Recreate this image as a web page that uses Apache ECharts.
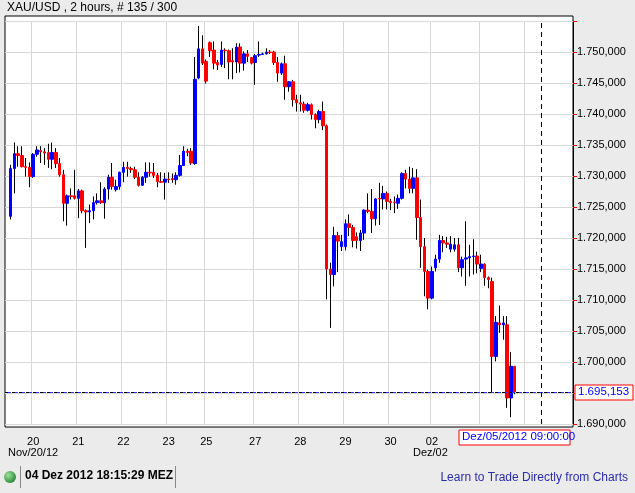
<!DOCTYPE html>
<html>
<head>
<meta charset="utf-8">
<script src="https://cdn.jsdelivr.net/npm/echarts@6/dist/echarts.min.js"></script>
<style>
  html, body { margin: 0; padding: 0; background: #ebebeb; }
  #main { width: 635px; height: 493px; }
</style>
</head>
<body>
<div id="main"></div>
<script>
// Kerzen (2 Stunden), von links nach rechts
const opens = [1723.5,1731.2,1733.6,1733.3,1731.5,1731.4,1729.9,1733.5,1734.1,1733.9,1733.8,1732.7,1733.8,1732.0,1730.2,1725.6,1726.8,1726.8,1726.4,1727.6,
  1724.4,1724.2,1724.4,1725.7,1726.0,1725.7,1727.9,1729.8,1727.8,1728.3,1730.6,1731.4,1731.2,1731.0,1729.8,1728.5,1729.8,1730.6,1730.6,1730.1,
  1729.1,1729.0,1729.5,1729.6,1729.4,1730.1,1731.7,1734.0,1734.0,1732.0,1745.8,1750.5,1748.5,1751.5,1750.3,1748.3,1748.0,1750.3,1750.2,1748.6,
  1748.4,1750.8,1748.2,1749.7,1749.1,1748.3,1749.5,1749.6,1749.7,1750.0,1750.0,1748.3,1746.6,1748.1,1744.4,1745.2,1742.3,1741.8,1741.6,1740.6,
  1741.5,1739.9,1739.1,1740.4,1738.1,1715.0,1714.1,1720.4,1718.6,1718.6,1722.3,1721.7,1720.2,1719.6,1720.8,1724.5,1724.3,1723.1,1726.4,1726.3,
  1727.2,1725.9,1725.8,1725.6,1726.4,1730.4,1729.5,1728.0,1729.7,1723.3,1718.6,1714.6,1710.3,1715.2,1716.6,1719.6,1719.2,1718.2,1718.2,1718.9,
  1715.2,1716.6,1716.8,1717.0,1717.1,1715.1,1715.8,1713.6,1713.0,1700.9,1706.3,1706.0,1706.0,1694.2,1699.3];
const closes = [1731.2,1733.6,1733.3,1731.5,1731.4,1729.9,1733.5,1734.2,1733.9,1733.7,1732.7,1733.8,1732.0,1730.2,1725.6,1726.8,1726.7,1726.4,1727.6,1724.4,
  1724.2,1724.4,1725.7,1726.0,1725.7,1727.9,1729.8,1728.3,1728.3,1730.6,1731.4,1731.2,1731.0,1729.8,1728.5,1729.8,1730.6,1730.5,1730.1,1729.1,
  1729.0,1729.5,1729.4,1729.4,1730.1,1731.7,1734.0,1733.8,1732.1,1745.6,1750.5,1748.2,1745.3,1750.2,1748.2,1747.9,1750.3,1750.2,1748.4,1748.4,
  1750.8,1748.2,1749.7,1749.3,1748.2,1749.4,1749.6,1749.7,1750.0,1749.9,1748.3,1746.6,1748.1,1744.4,1745.2,1742.3,1741.8,1741.6,1740.6,1741.5,
  1739.9,1739.1,1740.4,1738.1,1715.0,1714.1,1720.4,1719.5,1719.4,1722.3,1721.7,1719.6,1719.6,1720.8,1724.5,1724.3,1723.1,1726.3,1726.3,1727.2,
  1725.9,1725.7,1725.7,1726.4,1730.4,1729.5,1728.0,1729.7,1723.3,1718.6,1714.6,1710.3,1714.6,1716.6,1719.6,1719.2,1719.0,1719.0,1718.9,1715.2,
  1716.5,1716.8,1717.0,1717.1,1715.8,1715.8,1713.6,1713.3,1700.9,1706.4,1706.0,1706.3,1694.2,1699.3,1695.2];
const lows = [1723.0,1727.2,1731.5,1731.4,1729.9,1728.2,1729.7,1733.1,1732.1,1731.8,1731.3,1731.1,1731.3,1729.9,1722.7,1722.0,1726.2,1726.2,1723.2,1724.0,
  1718.4,1722.4,1723.0,1725.4,1725.5,1723.1,1726.2,1727.8,1727.5,1727.8,1729.0,1729.9,1730.5,1729.5,1728.3,1728.4,1728.9,1729.9,1729.7,1728.2,
  1728.9,1726.2,1728.9,1728.9,1728.6,1729.9,1731.6,1733.2,1731.8,1731.8,1745.6,1747.9,1744.9,1749.2,1747.2,1747.1,1747.6,1747.4,1745.6,1745.6,
  1746.6,1746.7,1747.0,1748.4,1748.0,1744.7,1749.2,1749.5,1749.6,1749.7,1747.9,1745.2,1746.3,1742.3,1743.6,1741.2,1740.4,1740.4,1740.2,1740.4,
  1739.1,1737.7,1738.5,1737.4,1710.1,1705.5,1712.2,1714.5,1717.9,1718.0,1720.3,1718.5,1718.3,1717.9,1719.7,1724.0,1720.8,1722.0,1722.1,1724.6,
  1724.6,1724.5,1724.0,1724.7,1726.2,1728.0,1727.2,1727.2,1719.7,1715.2,1710.6,1708.5,1710.1,1714.6,1716.0,1717.7,1718.4,1717.7,1717.8,1714.5,
  1713.8,1712.3,1713.8,1714.1,1714.3,1714.5,1712.3,1711.9,1695.0,1700.1,1704.7,1703.6,1692.6,1691.1,1694.8];
const highs = [1731.8,1735.4,1734.8,1734.8,1732.9,1732.2,1733.7,1734.8,1734.8,1734.5,1735.2,1735.4,1734.5,1732.9,1731.0,1727.0,1728.0,1731.0,1727.9,1727.8,
  1724.6,1725.4,1726.7,1727.2,1729.0,1728.2,1730.2,1732.1,1729.4,1730.7,1732.3,1732.3,1731.5,1731.5,1730.6,1730.0,1732.2,1732.2,1732.1,1730.5,
  1730.6,1730.5,1730.6,1730.4,1730.6,1733.4,1734.8,1734.4,1734.5,1749.2,1754.2,1752.7,1748.8,1751.7,1751.7,1748.7,1751.7,1750.6,1750.4,1750.6,
  1751.4,1751.4,1750.1,1750.3,1749.2,1749.7,1751.7,1749.9,1750.6,1750.3,1750.2,1749.2,1748.3,1749.4,1745.3,1745.5,1743.1,1743.1,1742.0,1741.8,
  1741.7,1740.1,1740.7,1742.0,1738.3,1716.0,1721.8,1721.0,1720.5,1723.0,1723.8,1722.1,1720.9,1721.3,1724.6,1727.2,1727.9,1726.4,1728.9,1728.4,
  1727.5,1726.3,1726.7,1727.0,1730.6,1731.0,1731.5,1731.3,1731.1,1726.2,1720.0,1714.9,1715.4,1717.3,1720.5,1720.3,1720.2,1720.3,1720.0,1720.0,
  1717.0,1722.7,1718.9,1719.8,1717.8,1717.3,1715.9,1713.8,1713.6,1707.4,1709.1,1707.4,1707.4,1701.6,1699.3];

// Achsenbeschriftung unten
const tickIndex = [7, 19, 31, 43, 53, 66, 78, 90, 102, 113, 126, 138];
const tickText = ['20', '21', '22', '23', '25', '27', '28', '29', '30', '02', '', ''];
const lastPrice = 1695.153;

const SLOTS = 151;
const firstSlot = 1;
const categories = [];
const wickData = [];
const bodyData = [];
for (let i = 0; i < SLOTS; i++) {
  const k = tickIndex.indexOf(i);
  categories.push(k >= 0 ? tickText[k] : 's' + i);
  const j = i - firstSlot;
  if (j >= 0 && j < opens.length) {
    const o = opens[j], c = closes[j];
    const lo = Math.min(lows[j], o, c), hi = Math.max(highs[j], o, c);
    wickData.push([o, c, lo, hi]);
    bodyData.push([o, c, Math.min(o, c), Math.max(o, c)]);
  } else {
    wickData.push('-');
    bodyData.push('-');
  }
}
const isTick = i => tickIndex.indexOf(i) >= 0;
const fmt = v => '1.' + String(Math.round(v - 1000)).padStart(3, '0') + ',000';

const chart = echarts.init(document.getElementById('main'));
chart.setOption({
  backgroundColor: '#ebebeb',
  animation: false,
  textStyle: { fontFamily: 'Liberation Sans, Arial, sans-serif' },
  grid: { left: 5, right: 62, top: 21, bottom: 69, show: false },
  graphic: [
    { type: 'rect', z: -100, shape: { x: 5, y: 16, width: 568, height: 411 },
      style: { fill: '#fff', stroke: '#000', lineWidth: 1 }, silent: true },
    { type: 'text', left: 7, top: 2, style: { text: 'XAU/USD , 2 hours, # 135 / 300', fontSize: 12, fill: '#000', fontFamily: 'Liberation Sans' } },
    { type: 'text', left: 8, top: 447, style: { text: 'Nov/20/12', fontSize: 11, fill: '#000', fontFamily: 'Liberation Sans' } },
    { type: 'text', left: 413, top: 447, style: { text: 'Dez/02', fontSize: 11, fill: '#000', fontFamily: 'Liberation Sans' } },
    { type: 'rect', shape: { x: 459, y: 430, width: 111, height: 15 }, style: { fill: '#fff', stroke: '#ff0000', lineWidth: 1 } },
    { type: 'text', left: 462, top: 431, style: { text: 'Dez/05/2012 09:00:00', fontSize: 11.5, fill: '#0000ff', fontFamily: 'Liberation Sans' } },
    { type: 'rect', z: 200, shape: { x: 575, y: 385, width: 58, height: 15 }, style: { fill: '#fff', stroke: '#ff0000', lineWidth: 1 } },
    { type: 'text', z: 201, left: 578, top: 386, style: { text: '1.695,153', fontSize: 11.5, fill: '#0000ff', fontFamily: 'Liberation Sans' } },
    { type: 'circle', shape: { cx: 10, cy: 477, r: 6 },
      style: { fill: new echarts.graphic.RadialGradient(0.35, 0.35, 0.8, [{ offset: 0, color: '#9be29b' }, { offset: 1, color: '#1a7a2a' }]) } },
    { type: 'rect', shape: { x: 20, y: 466, width: 1, height: 22 }, style: { fill: '#888' } },
    { type: 'text', left: 25, top: 470, style: { text: '04 Dez 2012 18:15:29 MEZ', fontSize: 12, fontWeight: 'bold', fill: '#000', fontFamily: 'Liberation Sans' } },
    { type: 'rect', shape: { x: 175, y: 466, width: 1, height: 22 }, style: { fill: '#888' } },
    { type: 'text', right: 7, top: 472, style: { text: 'Learn to Trade Directly from Charts', fontSize: 12, fill: '#2b2bb0', fontFamily: 'Liberation Sans' } }
  ],
  xAxis: {
    type: 'category',
    data: categories,
    boundaryGap: true,
    axisLine: { show: false },
    axisTick: { show: false },
    axisLabel: {
      interval: (i) => isTick(i), color: '#000', fontSize: 11, margin: 12,
      formatter: v => (v.charAt(0) === 's' ? '' : v)
    },
    splitLine: { show: true, interval: (i) => isTick(i), lineStyle: { color: '#d8d8d8', width: 1 } }
  },
  yAxis: {
    type: 'value',
    position: 'right',
    min: 1690, max: 1755, interval: 5,
    axisLine: { show: true, lineStyle: { color: '#000' } },
    axisTick: { show: true, length: 4, lineStyle: { color: '#ff0000' } },
    axisLabel: { color: '#000', fontSize: 11, margin: 4, formatter: v => (v >= 1755 || v === 1695 ? '' : fmt(v)) },
    splitLine: { show: true, lineStyle: { color: '#d8d8d8', width: 1 } }
  },
  series: [
    {
      type: 'candlestick',
      data: wickData,
      barWidth: 1,
      itemStyle: { color: '#000', color0: '#000', borderColor: '#000', borderColor0: '#000', borderWidth: 1 },
      markLine: {
        symbol: 'none', silent: true, label: { show: false },
        data: [
          { yAxis: lastPrice, lineStyle: { color: '#000', type: [4, 3], width: 1 } },
          { yAxis: lastPrice, lineStyle: { color: '#3030ff', type: [3, 4], dashOffset: 4, width: 1 } },
          { xAxis: 's142', lineStyle: { color: '#000', type: [5, 4], width: 1 } }
        ]
      }
    },
    {
      type: 'candlestick',
      data: bodyData,
      barWidth: 3,
      itemStyle: { color: '#0000ff', color0: '#ff0000', borderColor: '#0000ff', borderColor0: '#ff0000', borderWidth: 1 }
    }
  ]
});
</script>
</body>
</html>
